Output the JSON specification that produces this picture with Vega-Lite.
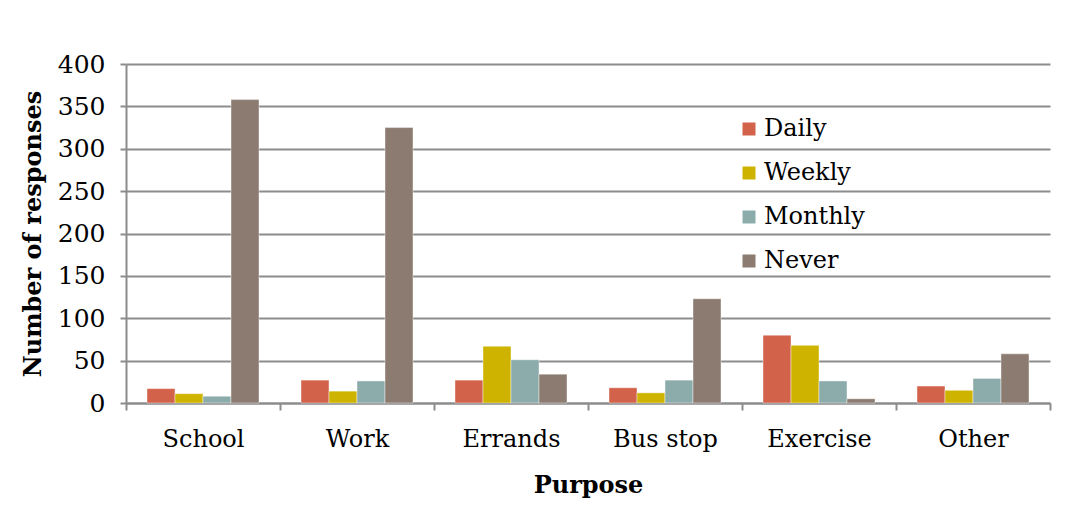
{
  "$schema": "https://vega.github.io/schema/vega-lite/v6.json",
  "width": 924,
  "height": 339,
  "autosize": {"type": "none"},
  "padding": {"left": 126, "top": 64, "right": 33, "bottom": 109},
  "background": "white",
  "config": {
    "view": {"stroke": null},
    "font": "DejaVu Serif",
    "axis": {"labelFont": "DejaVu Serif", "titleFont": "DejaVu Serif", "labelColor": "#000", "titleColor": "#000"},
    "legend": {"labelFont": "DejaVu Serif"}
  },
  "data": {
    "values": [
      {"Purpose": "School", "Frequency": "Daily", "Responses": 17},
      {"Purpose": "School", "Frequency": "Weekly", "Responses": 11},
      {"Purpose": "School", "Frequency": "Monthly", "Responses": 8},
      {"Purpose": "School", "Frequency": "Never", "Responses": 358},
      {"Purpose": "Work", "Frequency": "Daily", "Responses": 27},
      {"Purpose": "Work", "Frequency": "Weekly", "Responses": 14},
      {"Purpose": "Work", "Frequency": "Monthly", "Responses": 26},
      {"Purpose": "Work", "Frequency": "Never", "Responses": 325},
      {"Purpose": "Errands", "Frequency": "Daily", "Responses": 27},
      {"Purpose": "Errands", "Frequency": "Weekly", "Responses": 67},
      {"Purpose": "Errands", "Frequency": "Monthly", "Responses": 51},
      {"Purpose": "Errands", "Frequency": "Never", "Responses": 34},
      {"Purpose": "Bus stop", "Frequency": "Daily", "Responses": 18},
      {"Purpose": "Bus stop", "Frequency": "Weekly", "Responses": 12},
      {"Purpose": "Bus stop", "Frequency": "Monthly", "Responses": 27},
      {"Purpose": "Bus stop", "Frequency": "Never", "Responses": 123},
      {"Purpose": "Exercise", "Frequency": "Daily", "Responses": 80},
      {"Purpose": "Exercise", "Frequency": "Weekly", "Responses": 68},
      {"Purpose": "Exercise", "Frequency": "Monthly", "Responses": 26},
      {"Purpose": "Exercise", "Frequency": "Never", "Responses": 5},
      {"Purpose": "Other", "Frequency": "Daily", "Responses": 20},
      {"Purpose": "Other", "Frequency": "Weekly", "Responses": 15},
      {"Purpose": "Other", "Frequency": "Monthly", "Responses": 29},
      {"Purpose": "Other", "Frequency": "Never", "Responses": 58}
    ]
  },
  "mark": {"type": "bar", "stroke": "#ffffff", "strokeWidth": 0.7, "strokeOpacity": 0.6},
  "encoding": {
    "x": {
      "field": "Purpose",
      "type": "nominal",
      "sort": ["School", "Work", "Errands", "Bus stop", "Exercise", "Other"],
      "scale": {"paddingInner": 0, "paddingOuter": 0},
      "axis": {
        "title": "Purpose",
        "labelAngle": 0,
        "labelFontSize": 24,
        "labelPadding": 17,
        "titleFontSize": 24,
        "titleFontWeight": "bold",
        "titlePadding": 22,
        "domainColor": "#8c8c8c",
        "domainWidth": 2,
        "tickColor": "#8c8c8c",
        "tickWidth": 2,
        "tickSize": 7,
        "tickBand": "extent",
        "grid": false
      }
    },
    "xOffset": {
      "field": "Frequency",
      "type": "nominal",
      "sort": ["Daily", "Weekly", "Monthly", "Never"],
      "scale": {"paddingInner": 0, "paddingOuter": 0.75}
    },
    "y": {
      "field": "Responses",
      "type": "quantitative",
      "scale": {"domain": [0, 400], "nice": false},
      "axis": {
        "title": "Number of responses",
        "values": [0, 50, 100, 150, 200, 250, 300, 350, 400],
        "labelFontSize": 25,
        "labelPadding": 15,
        "titleFontSize": 24,
        "titleFontWeight": "bold",
        "titlePadding": 12,
        "grid": true,
        "gridColor": "#8c8c8c",
        "gridWidth": 2,
        "domainColor": "#8c8c8c",
        "domainWidth": 2,
        "tickColor": "#8c8c8c",
        "tickWidth": 2,
        "tickSize": 6
      }
    },
    "color": {
      "field": "Frequency",
      "type": "nominal",
      "sort": ["Daily", "Weekly", "Monthly", "Never"],
      "scale": {
        "domain": ["Daily", "Weekly", "Monthly", "Never"],
        "range": ["#D2634A", "#CEB400", "#8CACAC", "#8C7B70"]
      },
      "legend": {
        "title": null,
        "orient": "none",
        "legendX": 611,
        "legendY": 53,
        "symbolType": "square",
        "symbolSize": 169,
        "symbolStrokeWidth": 0,
        "labelFontSize": 24,
        "labelColor": "#000",
        "labelOffset": 3,
        "rowPadding": 20
      }
    }
  }
}
